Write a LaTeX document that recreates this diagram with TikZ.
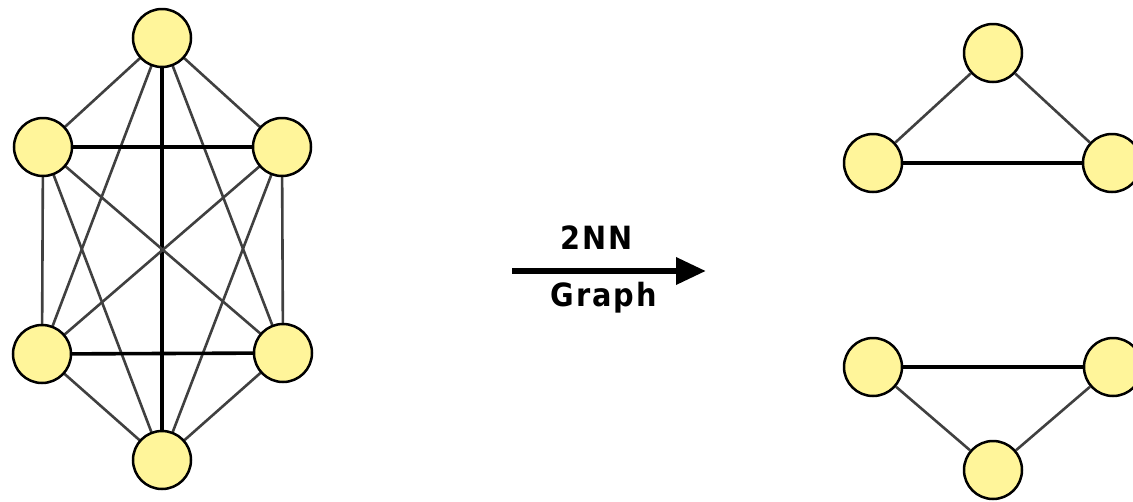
\documentclass[tikz,border=0pt]{standalone}
\usepackage{fontspec}
\setmainfont{DejaVu Sans}
\newfontfamily\lblfont[LetterSpace=6]{DejaVu Sans Condensed Bold}
\usetikzlibrary{arrows.meta}
\definecolor{nodefill}{HTML}{FFF59A}
\definecolor{edgegray}{HTML}{404040}
\tikzset{
  vtx/.style={circle, draw=black, line width=2.5pt, fill=nodefill, minimum size=58pt, inner sep=0pt},
  thin/.style={draw=edgegray, line width=2.6pt},
  thick/.style={draw=black, line width=3.6pt},
  lbl/.style={font=\lblfont\fontsize{32pt}{36pt}\selectfont, inner sep=0pt, anchor=base}
}
\begin{document}
\begin{tikzpicture}[x=1pt,y=-1pt]
\useasboundingbox (0,0) rectangle (1133,501);
\clip (0,0) rectangle (1133,501);
% left complete graph
\coordinate (pa) at (162,38);
\coordinate (pb) at (43,147);
\coordinate (pc) at (282,147);
\coordinate (pd) at (42,354);
\coordinate (pe) at (283,353);
\coordinate (pf) at (162,460);
\draw[thin] (pa) -- (pb);
\draw[thin] (pa) -- (pc);
\draw[thin] (pa) -- (pd);
\draw[thin] (pa) -- (pe);
\draw[thick] (pa) -- (pf);
\draw[thick] (pb) -- (pc);
\draw[thin] (pb) -- (pd);
\draw[thin] (pb) -- (pe);
\draw[thin] (pb) -- (pf);
\draw[thin] (pc) -- (pd);
\draw[thin] (pc) -- (pe);
\draw[thin] (pc) -- (pf);
\draw[thick] (pd) -- (pe);
\draw[thin] (pd) -- (pf);
\draw[thin] (pe) -- (pf);
\node[vtx] (a) at (pa) {};
\node[vtx] (b) at (pb) {};
\node[vtx] (c) at (pc) {};
\node[vtx] (d) at (pd) {};
\node[vtx] (e) at (pe) {};
\node[vtx] (f) at (pf) {};
% arrow
\coordinate (as) at (512,271);
\coordinate (ae) at (706,271);
\draw[line width=6.5pt, -{Triangle[length=30pt,width=26pt]}] (as) -- (ae);
\node[lbl] (t1) at (597,249) {2NN};
\node[lbl] (t2) at (604,306) {Graph};
% right graphs
\node[vtx] (g) at (993,53) {};
\node[vtx] (h) at (873,163) {};
\node[vtx] (i) at (1112,163) {};
\draw[thin] (g) -- (h);
\draw[thin] (g) -- (i);
\draw[thick] (h) -- (i);
\node[vtx] (j) at (873,367) {};
\node[vtx] (k) at (1113,367) {};
\node[vtx] (l) at (993,470) {};
\draw[thick] (j) -- (k);
\draw[thin] (j) -- (l);
\draw[thin] (k) -- (l);
\end{tikzpicture}
\end{document}
